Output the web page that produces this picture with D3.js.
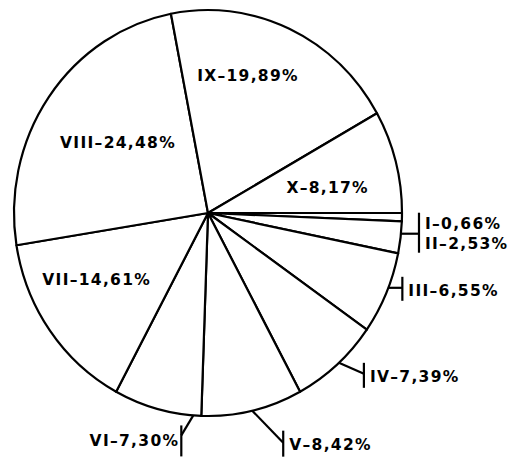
<!DOCTYPE html>
<html>
<head>
<meta charset="utf-8">
<script src="https://cdn.jsdelivr.net/npm/d3@7"></script>
<style>
  html, body { margin: 0; padding: 0; background: #fff; }
  svg text { font-family: "DejaVu Sans", sans-serif; font-weight: bold; font-size: 15.5px; fill: #000; letter-spacing: 1.3px; }
</style>
</head>
<body>
<svg id="chart" width="515" height="464"></svg>
<script>
// ---- data ----
const categories = ["I", "II", "III", "IV", "V", "VI", "VII", "VIII", "IX", "X"];
const values = [0.66, 2.53, 6.55, 7.39, 8.42, 7.30, 14.61, 24.48, 19.89, 8.17];
const valueLabels = ["0,66", "2,53", "6,55", "7,39", "8,42", "7,30", "14,61", "24,48", "19,89", "8,17"];

// ---- layout ----
const W = 515, H = 464;
const cx = 208, cy = 213, rx = 194, ry = 203;
const sy = ry / rx;
const rad = d => d * Math.PI / 180;

const svg = d3.select("#chart");

const pie = d3.pie().sort(null).value(d => d)
  .startAngle(Math.PI / 2).endAngle(Math.PI / 2 + 2 * Math.PI);
const arcs = pie(values);
const arc = d3.arc().innerRadius(0).outerRadius(rx);

const pt = (a, r) => [cx + r * Math.sin(a), cy - r * Math.cos(a) * sy];

// slices
const g = svg.append("g").attr("transform", `translate(${cx},${cy}) scale(1,${sy})`);
g.selectAll("path").data(arcs).join("path")
  .attr("d", arc)
  .attr("fill", "#fff")
  .attr("stroke", "#000")
  .attr("stroke-width", 2.2)
  .attr("stroke-linejoin", "round")
  .attr("vector-effect", "non-scaling-stroke");

const label = i => `${categories[i]}\u2013${valueLabels[i]}%`;

// inside labels: [index, radius fraction, angle nudge (deg)]
const inside = [[6, 0.66, 5.8], [7, 0.58, 2], [8, 0.71, -7.9], [9, 0.63, 3]];
inside.forEach(([i, f, da]) => {
  const a = (arcs[i].startAngle + arcs[i].endAngle) / 2 + rad(da);
  const [x, y] = pt(a, rx * f);
  svg.append("text").attr("x", x).attr("y", y + 6).attr("text-anchor", "middle").text(label(i));
});

// outside labels: slices, fraction along the arc, leader vector, bar extent, side
const outside = [
  { idx: [0, 1], frac: 0.51, v: [18, 0], bar: [-21, 19], rows: [-11, 9], side: 1 },
  { idx: [2], frac: 0.43, v: [14, 0], bar: [-11, 13], rows: [2], side: 1 },
  { idx: [3], frac: 0.47, v: [25, 11], bar: [-11, 14], rows: [2], side: 1 },
  { idx: [4], frac: 0.5, v: [31, 32], bar: [-12, 14], rows: [1], side: 1 },
  { idx: [5], frac: 0.09, v: [-12, 20], bar: [-10, 21], rows: [5], side: -1 }
];
outside.forEach(o => {
  const s = arcs[o.idx[0]].startAngle, e = arcs[o.idx[o.idx.length - 1]].endAngle;
  const a = s + (e - s) * o.frac;
  const [x0, y0] = pt(a, rx);
  const x1 = x0 + o.v[0], y1 = y0 + o.v[1];
  svg.append("line").attr("x1", x0).attr("y1", y0).attr("x2", x1).attr("y2", y1)
    .attr("stroke", "#000").attr("stroke-width", 2.2);
  svg.append("line").attr("x1", x1).attr("y1", y1 + o.bar[0]).attr("x2", x1).attr("y2", y1 + o.bar[1])
    .attr("stroke", "#000").attr("stroke-width", 2.2);
  o.idx.forEach((i, k) => {
    svg.append("text")
      .attr("x", o.side > 0 ? x1 + 6 : x1 - 2)
      .attr("y", y1 + o.rows[k] + 6)
      .attr("text-anchor", o.side > 0 ? "start" : "end")
      .text(label(i));
  });
});
</script>
</body>
</html>
